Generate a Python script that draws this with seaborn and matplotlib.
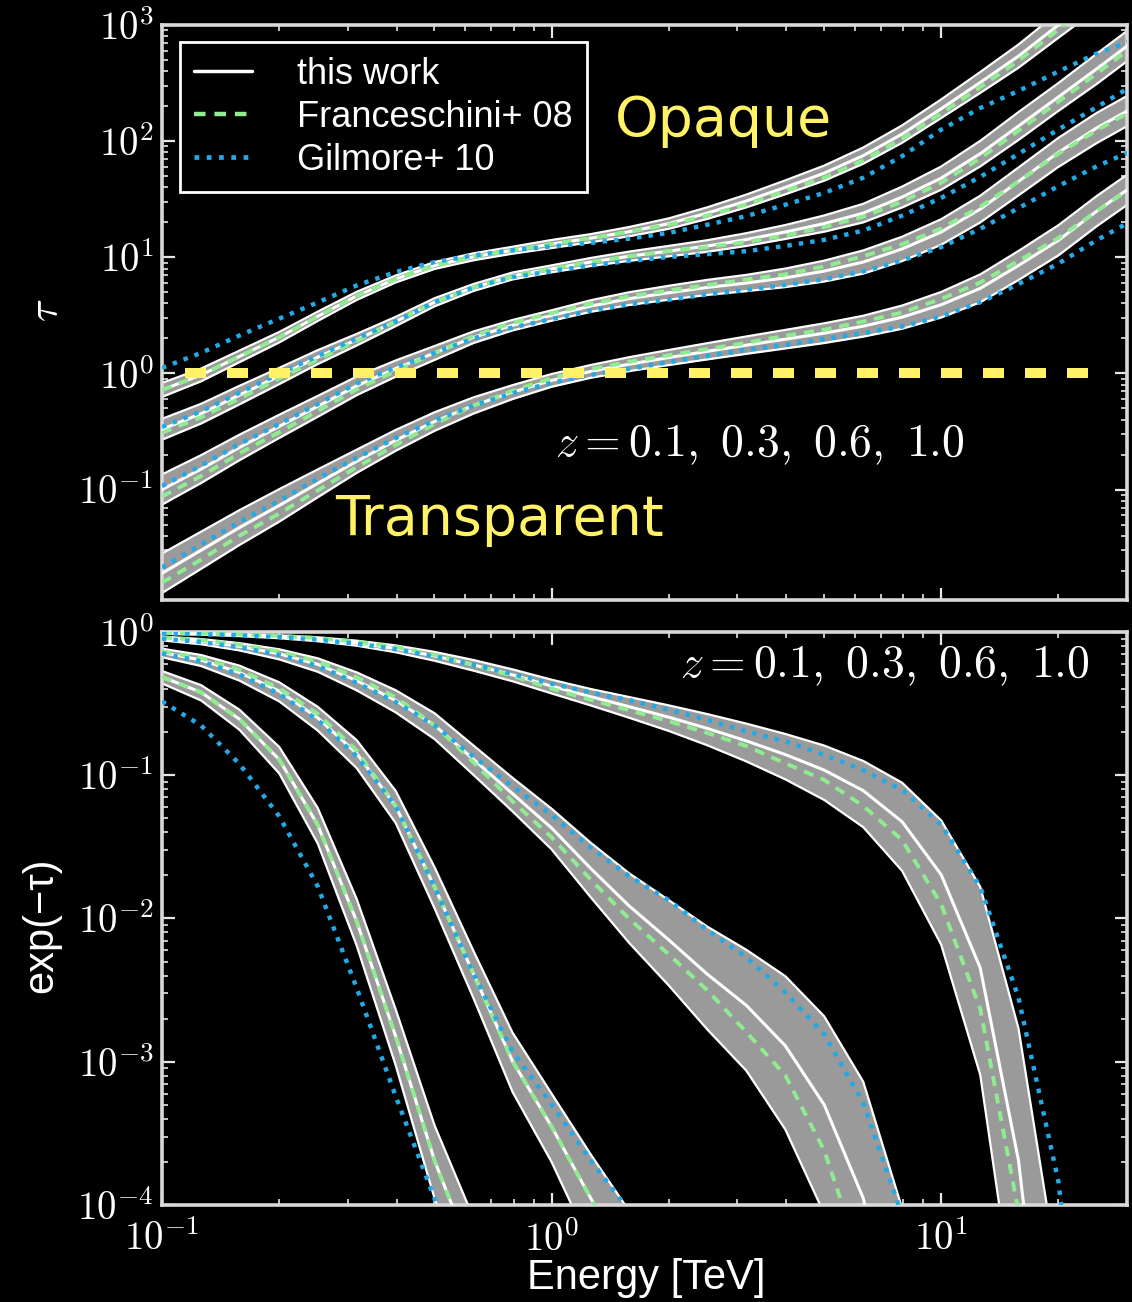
import numpy as np
import matplotlib
matplotlib.use("Agg")
import matplotlib.pyplot as plt
import seaborn as sns
from matplotlib.lines import Line2D
from matplotlib.ticker import LogLocator, FuncFormatter, NullFormatter

sns.set_theme(style="dark")
plt.rcParams["font.family"] = ["Liberation Sans", "DejaVu Sans"]
plt.rcParams["mathtext.fontset"] = "cm"

# ---------------- data ----------------
energy_tev = [0.1, 0.126, 0.158, 0.2, 0.251, 0.316, 0.398, 0.501, 0.631, 0.794,
              1.0, 1.26, 1.58, 2.0, 2.51, 3.16, 3.98, 5.01, 6.31, 7.94,
              10.0, 12.6, 15.8, 20.0, 25.1, 31.6]
redshifts = [0.1, 0.3, 0.6, 1.0]

# optical depth, "this work" central curve
tau_z01 = [0.019, 0.03, 0.047, 0.073, 0.113, 0.175, 0.265, 0.385, 0.53, 0.69, 0.87, 1.04, 1.2,
           1.37, 1.55, 1.75, 1.97, 2.22, 2.55, 3.05, 3.9, 5.4, 8.5, 14.0, 25.0, 43.0]
tau_z03 = [0.1, 0.15, 0.23, 0.35, 0.52, 0.78, 1.1, 1.5, 2.05, 2.6, 3.15, 3.8, 4.4,
           4.95, 5.5, 6.0, 6.65, 7.6, 9.1, 11.8, 16.5, 26.0, 45.0, 80.0, 130.0, 200.0]
tau_z06 = [0.33, 0.45, 0.65, 0.95, 1.38, 1.95, 2.8, 4.1, 5.5, 6.9, 7.95, 9.1, 10.2,
           11.3, 12.5, 14.2, 16.5, 19.5, 24.0, 33.0, 48.0, 78.0, 135.0, 240.0, 420.0, 750.0]
tau_z10 = [0.72, 0.97, 1.4, 2.05, 3.1, 4.65, 6.5, 8.5, 10.1, 11.5, 13.0, 14.6, 16.6,
           19.5, 24.0, 30.5, 40.0, 53.0, 75.0, 115.0, 190.0, 320.0, 540.0, 1000.0, 1800.0, 3000.0]

# half width of the uncertainty band (dex)
band_z01 = [0.17, 0.16, 0.15, 0.14, 0.12, 0.1, 0.09, 0.08, 0.07, 0.06, 0.055, 0.055, 0.06,
            0.065, 0.07, 0.075, 0.08, 0.085, 0.09, 0.1, 0.11, 0.12, 0.125, 0.13, 0.13, 0.13]
band_z03 = [0.13, 0.12, 0.11, 0.1, 0.09, 0.08, 0.07, 0.06, 0.05, 0.045, 0.045, 0.05, 0.055,
            0.06, 0.065, 0.07, 0.08, 0.09, 0.1, 0.105, 0.11, 0.115, 0.12, 0.125, 0.13, 0.13]
band_z06 = [0.09, 0.085, 0.08, 0.07, 0.06, 0.05, 0.04, 0.035, 0.03, 0.03, 0.03, 0.035, 0.04,
            0.045, 0.05, 0.055, 0.06, 0.07, 0.08, 0.09, 0.1, 0.11, 0.12, 0.12, 0.13, 0.13]
band_z10 = [0.06, 0.055, 0.05, 0.045, 0.04, 0.035, 0.03, 0.03, 0.03, 0.03, 0.035, 0.035, 0.04,
            0.045, 0.05, 0.055, 0.06, 0.065, 0.07, 0.075, 0.08, 0.09, 0.1, 0.11, 0.12, 0.12]

# Franceschini+08 relative to this work (dex)
fran_z01 = [-0.08, -0.08, -0.07, -0.07, -0.06, -0.05, -0.04, -0.02, 0, 0.01, 0.02, 0.02, 0.02,
            0.02, 0.02, 0.02, 0.03, 0.03, 0.04, 0.04, 0.05, 0.05, 0.04, 0.02, 0, -0.01]
fran_z03 = [-0.06, -0.06, -0.05, -0.05, -0.04, -0.03, -0.02, 0, 0.01, 0.02, 0.02, 0.02, 0.02,
            0.02, 0.02, 0.03, 0.03, 0.04, 0.05, 0.04, 0.03, 0.02, 0, -0.01, -0.02, -0.02]
fran_z06 = [-0.03, -0.03, -0.03, -0.02, -0.02, -0.01, 0, 0, 0, 0, 0, 0, 0,
            0, -0.01, -0.02, -0.03, -0.03, -0.03, -0.04, -0.04, -0.04, -0.04, -0.04, -0.04, -0.04]
fran_z10 = [0, 0, 0, 0, 0, 0, 0, 0, 0, 0, 0, 0, 0,
            -0.01, -0.02, -0.03, -0.03, -0.04, -0.04, -0.04, -0.04, -0.04, -0.04, -0.04, -0.04, -0.04]

# Gilmore+10 relative to this work (dex)
gilm_z01 = [0.05, 0.05, 0.05, 0.04, 0.04, 0.03, 0.02, 0.01, 0, -0.01, -0.02, -0.03, -0.04,
            -0.04, -0.04, -0.04, -0.05, -0.05, -0.06, -0.08, -0.1, -0.12, -0.16, -0.2, -0.25, -0.3]
gilm_z03 = [0.03, 0.03, 0.03, 0.02, 0.02, 0.02, 0.01, 0, -0.01, -0.02, -0.03, -0.04, -0.05,
            -0.06, -0.06, -0.06, -0.06, -0.07, -0.08, -0.1, -0.13, -0.17, -0.23, -0.29, -0.33, -0.37]
gilm_z06 = [0.02, 0.02, 0.02, 0.02, 0.01, 0.01, 0, 0, 0, -0.01, -0.02, -0.03, -0.04,
            -0.05, -0.07, -0.1, -0.12, -0.14, -0.15, -0.16, -0.17, -0.2, -0.24, -0.28, -0.33, -0.38]
gilm_z10 = [0.19, 0.19, 0.18, 0.16, 0.12, 0.09, 0.06, 0.03, 0.01, 0.0, -0.02, -0.04, -0.06,
            -0.08, -0.1, -0.13, -0.15, -0.17, -0.19, -0.19, -0.18, -0.22, -0.3, -0.4, -0.5, -0.6]

legend_labels = ["this work", "Franceschini+ 08", "Gilmore+ 10"]
z_text = r"$z = 0.1,\ 0.3,\ 0.6,\ 1.0$"

tau_mid = {0.1: tau_z01, 0.3: tau_z03, 0.6: tau_z06, 1.0: tau_z10}
band_dex = {0.1: band_z01, 0.3: band_z03, 0.6: band_z06, 1.0: band_z10}
fran_dex = {0.1: fran_z01, 0.3: fran_z03, 0.6: fran_z06, 1.0: fran_z10}
gilm_dex = {0.1: gilm_z01, 0.3: gilm_z03, 0.6: gilm_z06, 1.0: gilm_z10}

# ---------------- style ----------------
BAND_GREY = "#9a9a9a"
GREEN = "#90ec90"
BLUE = "#22a9e6"
YELLOW = "#fff266"
SPINE = "#d9d9d9"
FR_DASH = (0, (2.6, 2.0))
GI_DOT = (0, (1, 1.6))

fig = plt.figure(figsize=(11.32, 13.02), dpi=100, facecolor="black")
ax_tau = fig.add_axes([0.1431, 0.5392, 0.8525, 0.4416])
ax_att = fig.add_axes([0.1431, 0.0745, 0.8525, 0.4401])

E = np.asarray(energy_tev)

for ax in (ax_tau, ax_att):
    ax.set_facecolor("black")
    ax.set_xscale("log")
    ax.set_yscale("log")


def draw(ax, f):
    for z in redshifts:
        mid = np.asarray(tau_mid[z], dtype=float)
        w = np.asarray(band_dex[z], dtype=float)
        lo, hi = mid / 10 ** w, mid * 10 ** w
        fr = mid * 10 ** np.asarray(fran_dex[z], dtype=float)
        gi = mid * 10 ** np.asarray(gilm_dex[z], dtype=float)
        ax.fill_between(E, f(lo), f(hi), color=BAND_GREY, lw=0, zorder=1)
        for edge in (lo, hi):
            sns.lineplot(x=E, y=f(edge), ax=ax, color="white", lw=1.6,
                         estimator=None, sort=False, legend=False, zorder=2)
        sns.lineplot(x=E, y=f(mid), ax=ax, color="white", lw=2.2,
                     estimator=None, sort=False, legend=False, zorder=3)
        sns.lineplot(x=E, y=f(fr), ax=ax, color=GREEN, lw=2.8, linestyle=FR_DASH,
                     estimator=None, sort=False, legend=False, zorder=4)
        sns.lineplot(x=E, y=f(gi), ax=ax, color=BLUE, lw=3.2, linestyle=GI_DOT,
                     estimator=None, sort=False, legend=False, zorder=5)


draw(ax_tau, lambda t: t)
draw(ax_att, lambda t: np.clip(np.exp(-t), 1e-300, None))

fmt = FuncFormatter(lambda v, p: r"$10^{%d}$" % int(round(np.log10(v))))
for ax in (ax_tau, ax_att):
    ax.set_xlim(0.1, 30)
    for axis in (ax.xaxis, ax.yaxis):
        axis.set_major_locator(LogLocator(base=10, numticks=20))
        axis.set_minor_locator(LogLocator(base=10, subs=np.arange(2, 10) * 1.0, numticks=60))
        axis.set_major_formatter(fmt)
        axis.set_minor_formatter(NullFormatter())
    ax.grid(False)
    ax.tick_params(which="both", direction="in", top=True, right=True, bottom=True, left=True,
                   color="#e6e6e6", labelcolor="white", labelsize=28)
    ax.tick_params(which="major", length=9, width=1.6, pad=6)
    ax.tick_params(which="minor", length=4.5, width=1.2)
    ax.tick_params(axis="x", which="major", pad=11)
    for s in ax.spines.values():
        s.set_visible(True)
        s.set_color(SPINE)
        s.set_linewidth(2.6)
    ax.set_xlabel("")
    ax.set_ylabel("")

ax_tau.set_ylim(0.0112, 1000)
ax_att.set_ylim(1e-4, 1)
ax_tau.tick_params(labelbottom=False)

# tau = 1 reference line
ax_tau.axhline(1.0, xmin=0.024, xmax=0.976, color=YELLOW, lw=7.2,
               linestyle=(0, (2.1, 2.1)), solid_capstyle="butt", zorder=6)

ax_tau.text(0.469, 0.833, "Opaque", transform=ax_tau.transAxes, color=YELLOW,
            fontsize=40, family="DejaVu Sans", va="center", ha="left", zorder=7)
ax_tau.text(0.179, 0.139, "Transparent", transform=ax_tau.transAxes, color=YELLOW,
            fontsize=40, family="DejaVu Sans", va="center", ha="left", zorder=7)

ax_tau.text(0.407, 0.27, z_text, transform=ax_tau.transAxes, color="white",
            fontsize=33, va="center", ha="left", zorder=7)
ax_att.text(0.537, 0.942, z_text, transform=ax_att.transAxes, color="white",
            fontsize=33, va="center", ha="left", zorder=7)

handles = [Line2D([], [], color="white", lw=2.5),
           Line2D([], [], color=GREEN, lw=3.2, linestyle=FR_DASH),
           Line2D([], [], color=BLUE, lw=3.4, linestyle=GI_DOT)]
leg = ax_tau.legend(handles, legend_labels, loc="upper left", bbox_to_anchor=(0.0187, 0.970),
                    fontsize=26, frameon=True, fancybox=False, facecolor="black",
                    edgecolor="white", framealpha=1, handlelength=1.6, labelspacing=0.22,
                    borderpad=0.4, handletextpad=1.25, borderaxespad=0)
leg.get_frame().set_linewidth(2)
for t in leg.get_texts():
    t.set_color("white")
leg.set_zorder(10)

ax_tau.set_ylabel(r"$\tau$", fontsize=30, color="white")
ax_tau.yaxis.set_label_coords(-0.098, 0.504)
ax_att.set_ylabel("exp(−τ)", fontsize=30, color="white")
ax_att.yaxis.set_label_coords(-0.104, 0.489)
ax_att.set_xlabel("Energy [TeV]", fontsize=30, color="white")
ax_att.xaxis.set_label_coords(0.5016, -0.0925)
ax_att.xaxis.label.set_va("top")

fig.savefig("out.png", dpi=100, facecolor="black")
